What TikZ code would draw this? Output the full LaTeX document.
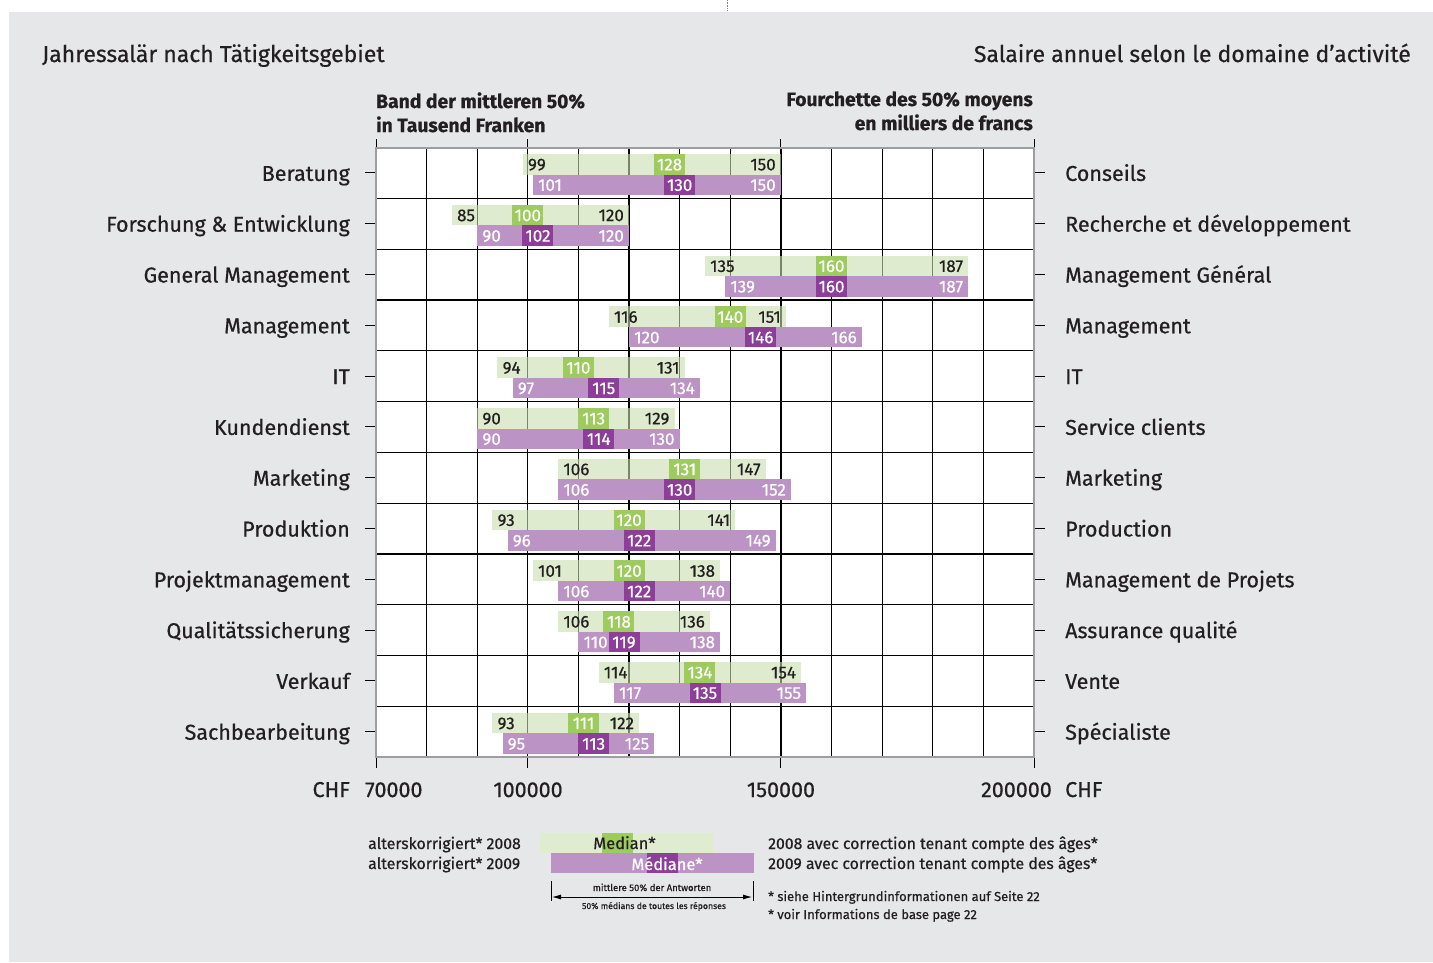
\documentclass[tikz,border=0pt]{standalone}
\usepackage{fontspec}
\setmainfont{Fira Sans}[FakeBold=0.6]
\usetikzlibrary{positioning, arrows.meta, calc}

\definecolor{bggray}{RGB}{230,231,233}
\definecolor{lgreen}{RGB}{203,223,175}
\definecolor{lgreenlg}{RGB}{224,236,207}
\definecolor{mgreen}{RGB}{157,203,93}
\definecolor{lpurple}{RGB}{187,147,196}
\definecolor{dpurple}{RGB}{141,62,152}
\definecolor{txtdark}{RGB}{35,31,32}
\definecolor{framegray}{RGB}{158,158,160}

\begin{document}
\begin{tikzpicture}[x=1pt, y=-1pt, >={Latex[length=9pt,width=5pt]},
    txt/.style={text=txtdark, inner sep=0pt},
    rowlab/.style={txt, font=\fontsize{21.5}{26}\selectfont},
    titlelab/.style={txt, font=\fontsize{23}{27}\selectfont},
    headlab/.style={txt, font=\fontsize{19.3}{23}\selectfont\bfseries},
    barlab/.style={inner sep=0pt, font=\fontsize{17}{19}\selectfont},
    leglab/.style={txt, font=\fontsize{15.8}{18}\selectfont},
    notelab/.style={txt, font=\fontsize{13}{15}\selectfont},
    tinylab/.style={txt, font=\fontsize{9.5}{11}\selectfont},
    gridline/.style={black, line width=1.2pt},
    frameline/.style={framegray, line width=2pt}]

    % --- Seite und Hintergrund ---
    \useasboundingbox (0,0) rectangle (1433,962);
    \fill[white] (0,0) rectangle (1433,962);
    \fill[bggray] (9,12) rectangle (1433,962);
    \draw[densely dotted, gray, line width=0.6pt] (727,0) -- (727,10);

    % --- Titel ---
    \node[titlelab, anchor=base west] (titleDE) at (42,62) {Jahressalär nach Tätigkeitsgebiet};
    \node[titlelab, anchor=base east] (titleFR) at (1411,62) {Salaire annuel selon le domaine d’activité};

    \node[headlab, anchor=base west] (headDEa) at (376,108) {Band der mittleren 50\%};
    \node[headlab, anchor=base west] (headDEb) at (376,132) {in Tausend Franken};
    \node[headlab, anchor=base east] (headFRa) at (1033,106) {Fourchette des 50\% moyens};
    \node[headlab, anchor=base east] (headFRb) at (1033,130) {en milliers de francs};

    % Skala: 1000 CHF = \ux pt, 70000 CHF bei x=376
    \def\ux{5.0615}

    % --- Diagrammfläche und Raster ---
    \fill[white] (376,147.5) rectangle (1034,757);
    \foreach \v in {80,90,...,190} {
        \draw[gridline] ({376+(\v-70)*\ux},147.5) -- ({376+(\v-70)*\ux},757);
    }
    \foreach \k in {1,...,11} {
        \draw[gridline] (376,{147.5+50.8*\k}) -- (1034,{147.5+50.8*\k});
    }
    % Hauptmarken oben und unten
    \foreach \v in {70,100,150,200} {
        \draw[black, line width=1pt] ({376+(\v-70)*\ux},139) -- ({376+(\v-70)*\ux},147.5);
        \draw[black, line width=1pt] ({376+(\v-70)*\ux},757) -- ({376+(\v-70)*\ux},768);
    }

    % --- Balken: Zeile/Q1/Median/Q3 (2008) / Q1/Median/Q3 (2009) / Texte ---
    \foreach \r/\lo/\me/\hi/\loB/\meB/\hiB/\de/\fr in {
        0/99/128/150/101/130/150/Beratung/Conseils,
        1/85/100/120/90/102/120/Forschung \& Entwicklung/Recherche et développement,
        2/135/160/187/139/160/187/General Management/Management Général,
        3/116/140/151/120/146/166/Management/Management,
        4/94/110/131/97/115/134/IT/IT,
        5/90/113/129/90/114/130/Kundendienst/Service clients,
        6/106/131/147/106/130/152/Marketing/Marketing,
        7/93/120/141/96/122/149/Produktion/Production,
        8/101/120/138/106/122/140/Projektmanagement/Management de Projets,
        9/106/118/136/110/119/138/Qualitätssicherung/Assurance qualité,
        10/114/134/154/117/135/155/Verkauf/Vente,
        11/93/111/122/95/113/125/Sachbearbeitung/Spécialiste} {
        \pgfmathsetmacro{\yt}{147.5+50.8*\r}
        \pgfmathsetmacro{\yc}{\yt+25.4}
        \pgfmathsetmacro{\ga}{376+(\lo-70)*\ux}
        \pgfmathsetmacro{\gm}{376+(\me-70)*\ux}
        \pgfmathsetmacro{\gb}{376+(\hi-70)*\ux}
        \pgfmathsetmacro{\pa}{376+(\loB-70)*\ux}
        \pgfmathsetmacro{\pm}{376+(\meB-70)*\ux}
        \pgfmathsetmacro{\pb}{376+(\hiB-70)*\ux}

        % 2008 (grün, Raster scheint durch)
        \fill[lgreen, fill opacity=0.6] (\ga,\yt+6.5) rectangle (\gb,\yt+27);
        \fill[mgreen] (\gm-15.5,\yt+6.5) rectangle (\gm+15.5,\yt+27);
        % 2009 (violett)
        \fill[lpurple] (\pa,\yt+27) rectangle (\pb,\yt+47.5);
        \fill[dpurple] (\pm-15.5,\yt+27) rectangle (\pm+15.5,\yt+47.5);

        \node[barlab, text=txtdark, anchor=base west] (glo-\r) at (\ga+5,\yt+22.8) {\lo};
        \node[barlab, text=white, anchor=base] (gme-\r) at (\gm,\yt+22.8) {\me};
        \node[barlab, text=txtdark, anchor=base east] (ghi-\r) at (\gb-5,\yt+22.8) {\hi};
        \node[barlab, text=white, anchor=base west] (plo-\r) at (\pa+5,\yt+43.3) {\loB};
        \node[barlab, text=white, anchor=base] (pme-\r) at (\pm,\yt+43.3) {\meB};
        \node[barlab, text=white, anchor=base east] (phi-\r) at (\pb-5,\yt+43.3) {\hiB};

        % Marken und Bezeichnungen
        \draw[black, line width=1pt] (365,\yc) -- (376,\yc);
        \draw[black, line width=1pt] (1034,\yc) -- (1045,\yc);
        \node[rowlab, anchor=base east] (de-\r) at (350,\yc+8) {\de};
        \node[rowlab, anchor=base west] (fr-\r) at (1065,\yc+8) {\fr};
    }

    % --- Rahmen ---
    \draw[frameline] (376,147.5) rectangle (1034,757);

    % --- X-Achse ---
    \node[rowlab, anchor=base east] (chfL) at (350,797) {CHF};
    \node[rowlab, anchor=base west] (t70) at (365,797) {70000};
    \node[rowlab, anchor=base] (t100) at (528,797) {100000};
    \node[rowlab, anchor=base] (t150) at (781,797) {150000};
    \node[rowlab, anchor=base east] (t200) at (1052,797) {200000};
    \node[rowlab, anchor=base west] (chfR) at (1065,797) {CHF};

    % --- Legende ---
    \node[leglab, anchor=base west] (leg08) at (368,849) {alterskorrigiert* 2008};
    \node[leglab, anchor=base west] (leg09) at (368,869) {alterskorrigiert* 2009};

    \fill[lgreenlg] (540,833) rectangle (713,853);
    \fill[mgreen] (602,833) rectangle (633,853);
    \fill[lpurple] (551,853) rectangle (754,873);
    \fill[dpurple] (647,853) rectangle (678,873);
    \node[txt, font=\fontsize{16.5}{19}\selectfont, anchor=base] (median) at (624.5,849) {Median*};
    \node[txt, text=white, font=\fontsize{16.5}{19}\selectfont, anchor=base] (mediane) at (667,870) {Médiane*};

    \coordinate (arrL) at (552,897);
    \coordinate (arrR) at (752,897);
    \draw[black, line width=0.8pt] (551,881) -- (551,901);
    \draw[black, line width=0.8pt] (753,881) -- (753,901);
    \draw[<->, black, line width=0.8pt] (arrL) -- (arrR);
    \node[tinylab, anchor=base] (midDE) at (652,891) {mittlere 50\% der Antworten};
    \node[tinylab, font=\fontsize{8.7}{10}\selectfont, anchor=base] (midFR) at (654,909) {50\% médians de toutes les réponses};

    \node[leglab, anchor=base west] (leg08fr) at (768,849) {2008 avec correction tenant compte des âges*};
    \node[leglab, anchor=base west] (leg09fr) at (768,869) {2009 avec correction tenant compte des âges*};
    \node[notelab, anchor=base west] (noteDE) at (768,901) {* siehe Hintergrundinformationen auf Seite 22};
    \node[notelab, anchor=base west] (noteFR) at (768,919) {* voir Informations de base page 22};
\end{tikzpicture}
\end{document}
